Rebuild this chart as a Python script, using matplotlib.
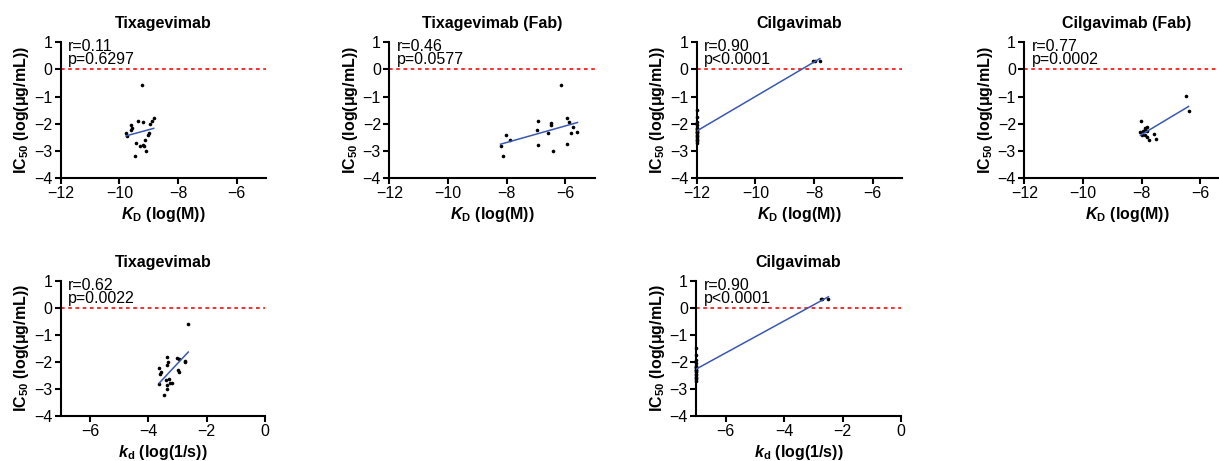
import numpy as np
import matplotlib
matplotlib.use("Agg")
import matplotlib.pyplot as plt
from matplotlib.transforms import offset_copy

plt.rcParams["font.family"] = ["Liberation Sans", "DejaVu Sans"]
plt.rcParams["mathtext.fontset"] = "custom"
plt.rcParams["mathtext.rm"] = "Liberation Sans"
plt.rcParams["mathtext.it"] = "Liberation Sans:italic"
plt.rcParams["mathtext.bf"] = "Liberation Sans:bold"
plt.rcParams["mathtext.bfit"] = "Liberation Sans:bold:italic"

# Tixagevimab, KD (log M) vs IC50 (log ug/mL)
tixa_kd_x = [-9.22, -9.35, -9.18, -8.83, -8.87, -8.94, -9.60, -9.57, -9.61, -9.77,
             -9.74, -8.99, -9.01, -9.42, -9.13, -9.18, -9.15, -9.29, -9.10, -9.47]
tixa_kd_y = [-0.57, -1.91, -1.95, -1.79, -1.89, -2.01, -2.06, -2.16, -2.22, -2.35,
             -2.44, -2.35, -2.40, -2.71, -2.61, -2.77, -2.81, -2.83, -3.01, -3.18]

# Tixagevimab (Fab)
tixa_fab_x = [-6.14, -6.95, -5.93, -5.88, -6.49, -6.48, -6.97, -5.75, -6.58,
              -5.82, -5.59, -8.03, -7.88, -8.21, -6.93, -5.96, -6.42, -8.12]
tixa_fab_y = [-0.56, -1.91, -1.79, -1.95, -1.98, -2.06, -2.22, -2.13, -2.36,
              -2.33, -2.29, -2.41, -2.61, -2.83, -2.77, -2.76, -3.00, -3.18]

# Cilgavimab: most KD values at the lower limit (-12)
cilga_low_y = [-1.50, -1.75, -1.95, -2.05, -2.15, -2.20, -2.25, -2.30, -2.35,
               -2.40, -2.45, -2.50, -2.55, -2.60, -2.65, -2.70, -2.30, -2.20]
cilga_kd_x = [-12.0] * len(cilga_low_y) + [-8.05, -7.95, -7.80]
cilga_kd_y = cilga_low_y + [0.32, 0.31, 0.32]

# Cilgavimab (Fab)
cilga_fab_x = [-6.49, -6.40, -8.01, -7.81, -7.87, -7.94, -8.04, -7.90, -8.00,
               -7.58, -7.81, -7.76, -7.50, -7.90, -7.83]
cilga_fab_y = [-0.97, -1.52, -1.91, -2.13, -2.22, -2.28, -2.32, -2.40, -2.40,
               -2.37, -2.50, -2.60, -2.58, -2.17, -2.28]

# Tixagevimab, kd (log 1/s)
tixa_koff_x = [-2.63, -3.35, -3.02, -3.31, -3.37, -2.74, -2.74, -2.93, -3.62, -3.57,
               -3.60, -2.97, -2.93, -3.40, -3.28, -3.25, -3.20, -3.35, -3.62, -3.37, -3.45]
tixa_koff_y = [-0.59, -1.83, -1.85, -2.00, -2.12, -1.96, -2.02, -1.91, -2.25, -2.37,
               -2.46, -2.31, -2.38, -2.68, -2.65, -2.80, -2.80, -2.86, -2.83, -3.02, -3.22]

# Cilgavimab, kd
cilga_koff_x = [-7.0] * len(cilga_low_y) + [-2.72, -2.70, -2.48]
cilga_koff_y = cilga_low_y + [0.32, 0.31, 0.32]

stats = {
    "tixa_kd": ("r=0.11", "p=0.6297"),
    "tixa_fab": ("r=0.46", "p=0.0577"),
    "cilga_kd": ("r=0.90", "p<0.0001"),
    "cilga_fab": ("r=0.77", "p=0.0002"),
    "tixa_koff": ("r=0.62", "p=0.0022"),
    "cilga_koff": ("r=0.90", "p<0.0001"),
}

W, H = 1219, 461
fig = plt.figure(figsize=(W / 100, H / 100), dpi=100)

KD_LABEL = r"$\mathbfit{K}_{\mathbf{D}}$ (log(M))"
KOFF_LABEL = r"$\mathbfit{k}_{\mathbf{d}}$ (log(1/s))"
Y_LABEL = r"IC$_{\mathbf{50}}$ (log(μg/mL))"


def px_axes(left, right, top, bottom):
    return fig.add_axes([left / W, 1 - bottom / H, (right - left) / W, (bottom - top) / H])


def draw_panel(ax, x, y, title, xlabel, xlim, xticks, key):
    x = np.asarray(x)
    y = np.asarray(y)
    ax.set_xlim(*xlim)
    ax.set_ylim(-4, 1)
    ax.set_xticks(xticks)
    ax.set_yticks(range(-4, 2))
    ax.axhline(0, color="#ff1a1a", lw=1.3, ls=(0, (2, 2)), zorder=1)

    slope, icpt = np.polyfit(x, y, 1)
    xs = np.array([x.min(), x.max()])
    ax.plot(xs, slope * xs + icpt, color="#3a58b0", lw=1.1, zorder=3)
    ax.plot(x, y, "o", color="black", ms=2.6, mec="none", clip_on=False, zorder=2)

    for side in ("top", "right"):
        ax.spines[side].set_visible(False)
    for side in ("left", "bottom"):
        ax.spines[side].set_linewidth(1.5)
    ax.tick_params(direction="out", length=4, width=1.5, labelsize=11.5, pad=2)

    ax.set_title(title, fontsize=11.5, fontweight="bold", pad=10)
    ax.set_xlabel(xlabel, fontsize=11.5, fontweight="bold")
    ax.set_ylabel(Y_LABEL, fontsize=11.5, fontweight="bold")
    ax.xaxis.set_label_coords(0.5, -0.2)
    ax.yaxis.set_label_coords(-0.145, 0.5)

    r_txt, p_txt = stats[key]
    tr1 = offset_copy(ax.transAxes, fig=fig, x=7.5, y=-4.5, units="dots")
    tr2 = offset_copy(ax.transAxes, fig=fig, x=7.5, y=-17.5, units="dots")
    ax.text(0, 1, r_txt, transform=tr1, fontsize=11.5, va="center", ha="left")
    ax.text(0, 1, p_txt, transform=tr2, fontsize=11.5, va="center", ha="left")


row1 = (42.3, 178)
row2 = (280.7, 415.7)
kd_ticks = [-12, -10, -8, -6]
koff_ticks = [-6, -4, -2, 0]

ax1 = px_axes(60.7, 266, *row1)
draw_panel(ax1, tixa_kd_x, tixa_kd_y, "Tixagevimab", KD_LABEL, (-12, -5), kd_ticks, "tixa_kd")
ax2 = px_axes(389.3, 594.8, *row1)
draw_panel(ax2, tixa_fab_x, tixa_fab_y, "Tixagevimab (Fab)", KD_LABEL, (-12, -5), kd_ticks, "tixa_fab")
ax3 = px_axes(696.7, 902, *row1)
draw_panel(ax3, cilga_kd_x, cilga_kd_y, "Cilgavimab", KD_LABEL, (-12, -5), kd_ticks, "cilga_kd")
ax4 = px_axes(1024.3, 1229.6, *row1)
draw_panel(ax4, cilga_fab_x, cilga_fab_y, "Cilgavimab (Fab)", KD_LABEL, (-12, -5), kd_ticks, "cilga_fab")
ax5 = px_axes(60.7, 265, *row2)
draw_panel(ax5, tixa_koff_x, tixa_koff_y, "Tixagevimab", KOFF_LABEL, (-7, 0), koff_ticks, "tixa_koff")
ax6 = px_axes(696.3, 901, *row2)
draw_panel(ax6, cilga_koff_x, cilga_koff_y, "Cilgavimab", KOFF_LABEL, (-7, 0), koff_ticks, "cilga_koff")

fig.savefig("out.png", dpi=100)
plt.close(fig)
